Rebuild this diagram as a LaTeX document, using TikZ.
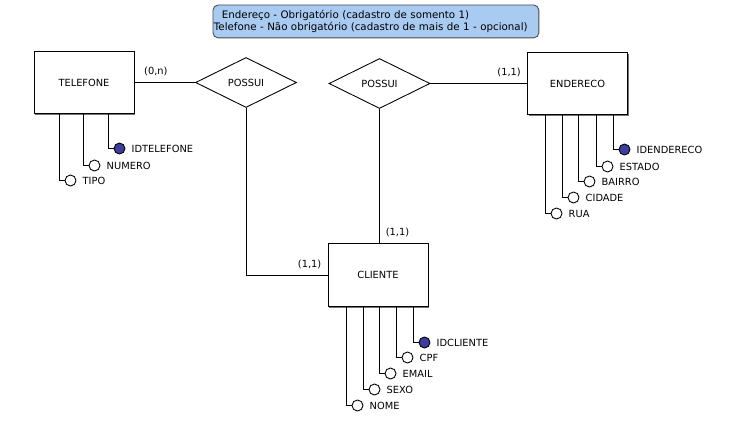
\documentclass[tikz,border=0pt]{standalone}
\usepackage{fontspec}
\setmainfont{DejaVu Sans}
\usetikzlibrary{shapes.geometric, shadows}
\definecolor{notefill}{HTML}{A9CAF1}
\definecolor{keyblue}{HTML}{3D3D9B}

\begin{document}
\begin{tikzpicture}[x=0.02cm, y=-0.02cm, line width=0.5pt,
    font=\fontsize{5.6pt}{6.8pt}\selectfont,
    entity/.style={draw, fill=white, minimum width=2cm, minimum height=1.25cm,
        drop shadow={shadow xshift=0.025cm, shadow yshift=-0.025cm, fill=black!55, opacity=1}},
    relation/.style={diamond, draw, fill=white, aspect=2, minimum width=2.02cm, minimum height=1cm, inner sep=0pt},
    attr/.style={circle, draw, fill=white, minimum size=0.22cm, inner sep=0pt},
    keyattr/.style={attr, fill=keyblue},
    note/.style={draw=black!70, fill=notefill, rounded corners=3pt, align=left,
        text width=6.48cm, minimum height=0.66cm, inner xsep=0.02cm, inner ysep=0pt,
        font=\fontsize{5.85pt}{6.8pt}\selectfont}]
    \useasboundingbox (0,0) rectangle (753,443);
    \begin{scope}[shift={(0.5,0.5)}]

    \node[note, anchor=north west] (nota) at (212,4)
        {\hspace*{0.16cm}Endereço - Obrigatório (cadastro de somento 1)\\Telefone - Não obrigatório (cadastro de mais de 1 - opcional)};

    \node[entity] (tel) at (83.5,82) {TELEFONE};
    \node[entity] (end) at (577,83) {ENDERECO};
    \node[entity] (cli) at (377.5,274.5) {CLIENTE};

    \node[relation] (pos1) at (245.5,82) {POSSUI};
    \node[relation] (pos2) at (379,83) {POSSUI};

    \draw (tel.east) -- (pos1.west) node[pos=0, above right, xshift=2pt] {(0,n)};
    \draw (pos1.south) |- (cli.west) node[pos=1, above left] {(1,1)};
    \draw (pos2.east) -- (end.west) node[pos=1, above left] {(1,1)};
    \draw (pos2.south) -- (pos2.south |- cli.north) node[pos=1, above right] {(1,1)};

    \foreach \lx/\ay/\nm/\st in {59/180/TIPO/attr, 83/165/NUMERO/attr, 108/148/IDTELEFONE/keyattr} {
        \node[\st, label=right:\nm] (a-\nm) at (\lx+11,\ay) {};
        \draw (tel.south -| \lx,0) |- (a-\nm);
    }
    \foreach \lx/\ay/\nm/\st in {545/213/RUA/attr, 562/197/CIDADE/attr, 578/181/BAIRRO/attr,
                                 596/166/ESTADO/attr, 613/149/IDENDERECO/keyattr} {
        \node[\st, label=right:\nm] (a-\nm) at (\lx+11,\ay) {};
        \draw (end.south -| \lx,0) |- (a-\nm);
    }
    \foreach \lx/\ay/\nm/\st in {346/405/NOME/attr, 363/389/SEXO/attr, 379/373/EMAIL/attr,
                                 396/357/CPF/attr, 413/342/IDCLIENTE/keyattr} {
        \node[\st, label=right:\nm] (a-\nm) at (\lx+11,\ay) {};
        \draw (cli.south -| \lx,0) |- (a-\nm);
    }
    \end{scope}
\end{tikzpicture}
\end{document}
